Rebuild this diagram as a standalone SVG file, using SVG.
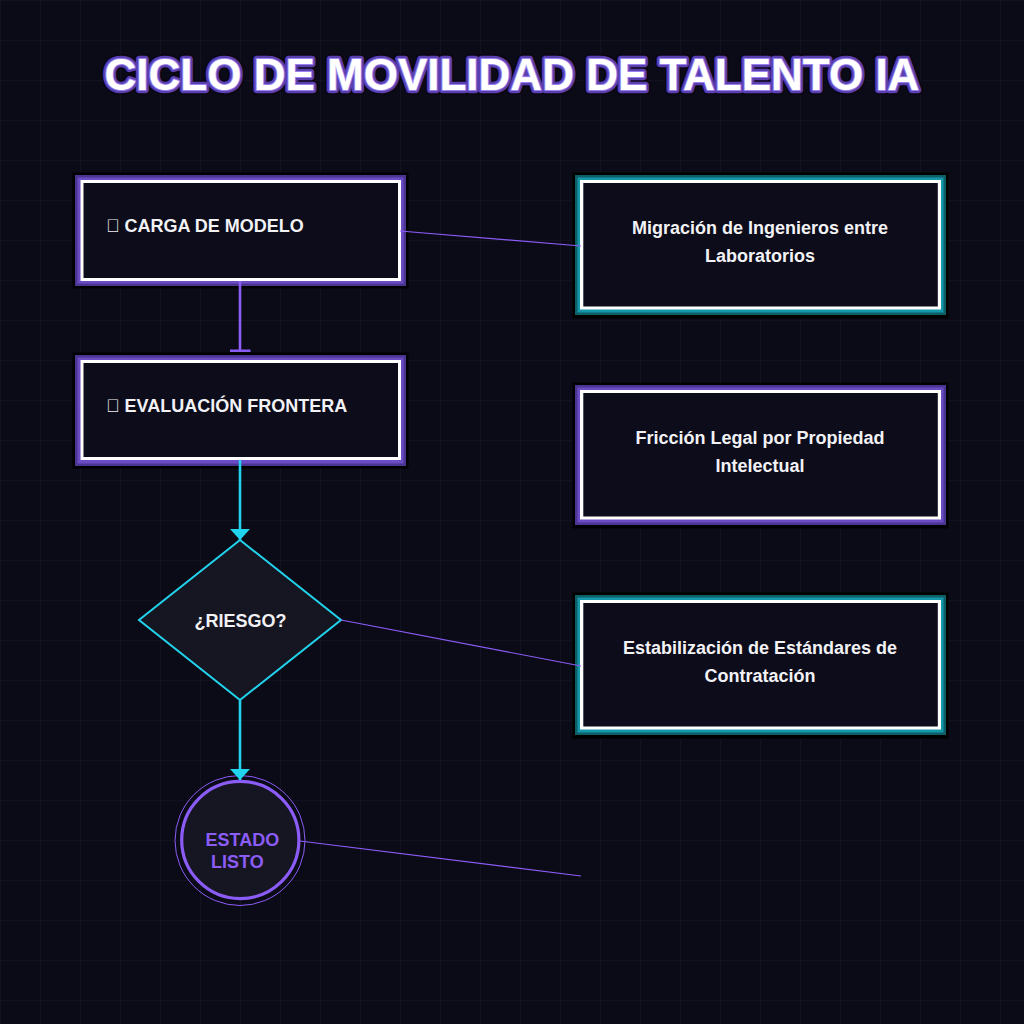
<svg xmlns="http://www.w3.org/2000/svg" width="1024" height="1024" viewBox="0 0 1024 1024">
  <defs>
    <pattern id="grid" x="0" y="0" width="40" height="40" patternUnits="userSpaceOnUse">
      <path d="M40 0 L0 0 L0 40" fill="none" stroke="#171729" stroke-width="1.2"/>
    </pattern>
    <marker id="arrowCyan" viewBox="0 0 11 20" refX="11" refY="10" markerWidth="11" markerHeight="20" markerUnits="userSpaceOnUse" orient="auto">
      <path d="M0 0 L11 10 L0 20 Z" fill="#22d3ee"/>
    </marker>
  </defs>
  <style>
    .lbl { font-family: "Liberation Sans", Arial, sans-serif; font-weight: bold; font-size: 18px; fill: #f2f2f5; }
    .mid { text-anchor: middle; }
    .thin { fill: none; stroke: #8b5cf6; stroke-width: 1.2; }
    .cyan { fill: none; stroke: #22d3ee; stroke-width: 2.6; }
    .inner { fill: #0c0c1b; }
    .title { font-family: "Liberation Sans", Arial, sans-serif; font-weight: bold; font-size: 44px; text-anchor: middle; paint-order: stroke; stroke-linejoin: round; }
  </style>

  <rect x="0" y="0" width="1024" height="1024" fill="#0b0b18"/>
  <rect x="0" y="0" width="1024" height="1024" fill="url(#grid)"/>

  <g id="title">
    <text class="title" x="512" y="90" fill="#ffffff" stroke="#0a0612" stroke-width="10">CICLO DE MOVILIDAD DE TALENTO IA</text>
    <text class="title" x="512" y="90" fill="#ffffff" stroke="#5a3fae" stroke-width="6.5">CICLO DE MOVILIDAD DE TALENTO IA</text>
    <text class="title" x="512" y="90" fill="#ffffff" stroke="#9a82ee" stroke-width="2">CICLO DE MOVILIDAD DE TALENTO IA</text>
  </g>

  <g id="node-carga">
    <rect x="72.5" y="172.5" width="336" height="116" fill="#000000"/>
    <rect x="75" y="175" width="331" height="111" fill="#4a3592"/>
    <rect x="77.5" y="177.5" width="326" height="106" fill="#6b4cc4"/>
    <rect x="80.5" y="180" width="320.5" height="101" fill="#ffffff"/>
    <rect x="83.5" y="183" width="314.5" height="95" class="inner"/>
    <text class="lbl" x="106" y="232">&#xE000; CARGA DE MODELO</text>
  </g>

  <g id="node-evaluacion">
    <rect x="72.5" y="352.5" width="336" height="116" fill="#000000"/>
    <rect x="75" y="355" width="331" height="111" fill="#4a3592"/>
    <rect x="77.5" y="357.5" width="326" height="106" fill="#6b4cc4"/>
    <rect x="80.5" y="360" width="320.5" height="100" fill="#ffffff"/>
    <rect x="83.5" y="363" width="314.5" height="94" class="inner"/>
    <text class="lbl" x="106" y="412">&#xE000; EVALUACIÓN FRONTERA</text>
  </g>

  <g id="node-riesgo">
    <polygon points="240,540 341,620 240,700 139,620" fill="#161622" stroke="#22d3ee" stroke-width="2"/>
    <text class="lbl mid" x="240.5" y="627">¿RIESGO?</text>
  </g>

  <g id="node-listo">
    <circle cx="240" cy="840.5" r="65" fill="none" stroke="#8b5cf6" stroke-width="1"/>
    <circle cx="240.3" cy="840" r="58.6" fill="#161622" stroke="#8b5cf6" stroke-width="3.2"/>
    <text class="lbl" x="205.5" y="846" style="fill:#8b5cf6">ESTADO</text>
    <text class="lbl" x="211" y="867.5" style="fill:#8b5cf6">LISTO</text>
  </g>

  <g id="node-migracion">
    <rect x="572.5" y="172.5" width="376" height="146" fill="#000000"/>
    <rect x="575" y="175" width="371" height="140" fill="#0e5e68"/>
    <rect x="577.5" y="177.5" width="366" height="135" fill="#1597aa"/>
    <rect x="580" y="180" width="361" height="129.5" fill="#ffffff"/>
    <rect x="583.3" y="183" width="354.5" height="123.5" class="inner"/>
    <text class="lbl mid" x="760" y="234">Migración de Ingenieros entre</text>
    <text class="lbl mid" x="760" y="262">Laboratorios</text>
  </g>

  <g id="node-friccion">
    <rect x="572.5" y="382.5" width="376" height="146" fill="#000000"/>
    <rect x="575" y="385" width="371" height="140" fill="#4a3592"/>
    <rect x="577.5" y="387.5" width="366" height="135" fill="#6b4cc4"/>
    <rect x="580" y="390" width="361" height="129.5" fill="#ffffff"/>
    <rect x="583.3" y="393" width="354.5" height="123.5" class="inner"/>
    <text class="lbl mid" x="760" y="444">Fricción Legal por Propiedad</text>
    <text class="lbl mid" x="760" y="472">Intelectual</text>
  </g>

  <g id="node-estabilizacion">
    <rect x="572.5" y="592.5" width="376" height="146" fill="#000000"/>
    <rect x="575" y="595" width="371" height="140" fill="#0e5e68"/>
    <rect x="577.5" y="597.5" width="366" height="135" fill="#1597aa"/>
    <rect x="580" y="600" width="361" height="129.5" fill="#ffffff"/>
    <rect x="583.3" y="603" width="354.5" height="123.5" class="inner"/>
    <text class="lbl mid" x="760" y="654">Estabilización de Estándares de</text>
    <text class="lbl mid" x="760" y="682">Contratación</text>
  </g>

  <g id="connectors">
    <line x1="240" y1="281" x2="240" y2="350" stroke="#8b5cf6" stroke-width="2.6"/>
    <rect x="230" y="349.5" width="20.5" height="2.5" fill="#8b5cf6"/>
    <line class="cyan" x1="240" y1="460" x2="240" y2="540" marker-end="url(#arrowCyan)"/>
    <line class="cyan" x1="240" y1="700" x2="240" y2="780" marker-end="url(#arrowCyan)"/>
    <line class="thin" x1="400" y1="231" x2="581" y2="246"/>
    <line class="thin" x1="341" y1="620" x2="581" y2="666"/>
    <line class="thin" x1="300" y1="841" x2="581" y2="876"/>
  </g>
</svg>
